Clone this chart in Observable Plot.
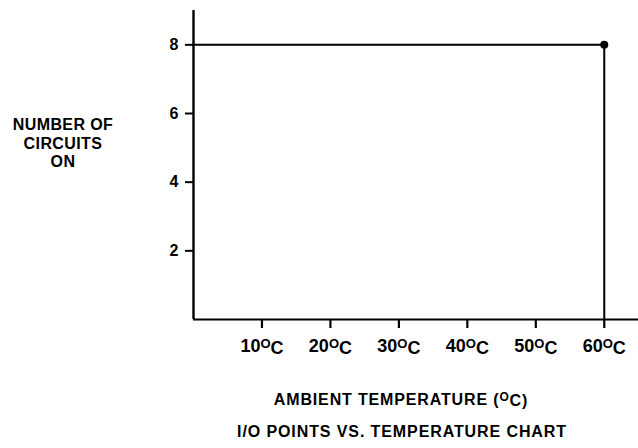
<!DOCTYPE html>
<html><head><meta charset="utf-8">
<script src="https://cdn.jsdelivr.net/npm/d3@7"></script>
<script src="https://cdn.jsdelivr.net/npm/@observablehq/plot@0.6"></script>
<style>
html,body{margin:0;padding:0;background:#fff;}
svg{display:block;}
</style>
</head><body>
<div id="chart"></div>
<script>
const tempTicks = [10, 20, 30, 40, 50, 60];
const circuitTicks = [2, 4, 6, 8];
const lineTemp = [0, 60, 60];
const lineCircuits = [8, 8, 0];
const pointTemp = [60];
const pointCircuits = [8];
const yLabelLines = ["NUMBER OF", "CIRCUITS", "ON"];
const xLabel = "AMBIENT TEMPERATURE (";
const chartTitle = "I/O POINTS VS. TEMPERATURE CHART";

const lineData = lineTemp.map((t, i) => ({t, n: lineCircuits[i]}));
const pointData = pointTemp.map((t, i) => ({t, n: pointCircuits[i]}));

const font = "'Liberation Sans', Arial, Helvetica, sans-serif";

const plot = Plot.plot({
  width: 638,
  height: 448,
  marginLeft: 193,
  marginRight: 0,
  marginTop: 10,
  marginBottom: 129,
  style: {fontFamily: font, fontWeight: "bold", fontSize: "16px", color: "#000", background: "#fff"},
  x: {domain: [0, 65]},
  y: {domain: [0, 9]},
  marks: [
    Plot.axisX({ticks: tempTicks, tickSize: 9, tickPadding: 11, strokeWidth: 2.2, tickFormat: d => d + "°C", label: null, fontSize: 18}),
    Plot.axisY({ticks: circuitTicks, tickSize: 8, tickPadding: 7, strokeWidth: 2, label: null, fontSize: 16}),
    Plot.ruleY([0], {strokeWidth: 2.2}),
    Plot.ruleX([0], {strokeWidth: 2.4}),
    Plot.line(lineData, {x: "t", y: "n", strokeWidth: 2, stroke: "#000"}),
    Plot.dot(pointData, {x: "t", y: "n", r: 4, fill: "#000", stroke: null})
  ]
});

const svg = d3.select(plot);
// superscript o in tick labels
svg.selectAll('g[aria-label="x-axis tick label"] text').each(function() {
  const el = d3.select(this);
  const num = el.text().replace("°C", "");
  el.text(null);
  el.append("tspan").text(num);
  el.append("tspan").attr("font-size", "13px").attr("dy", "-0.3em").text("O");
  el.append("tspan").attr("dy", "0.3em").text("C");
});

const g = svg.append("g").attr("font-family", font).attr("font-weight", "bold").attr("fill", "#000").attr("text-anchor", "middle");
yLabelLines.forEach((s, i) => {
  g.append("text").attr("x", 63).attr("y", 130 + i * 18.5).attr("font-size", "16px").attr("letter-spacing", "0.4px").text(s);
});
const xl = g.append("text").attr("x", 401).attr("y", 405).attr("font-size", "16px").attr("letter-spacing", "0.85px");
xl.append("tspan").text(xLabel);
xl.append("tspan").attr("font-size", "12px").attr("dy", "-0.35em").text("O");
xl.append("tspan").attr("dy", "0.35em").text("C)");
g.append("text").attr("x", 402).attr("y", 437).attr("font-size", "16px").attr("letter-spacing", "0.9px").text(chartTitle);

document.getElementById("chart").appendChild(plot);
</script>
</body></html>
